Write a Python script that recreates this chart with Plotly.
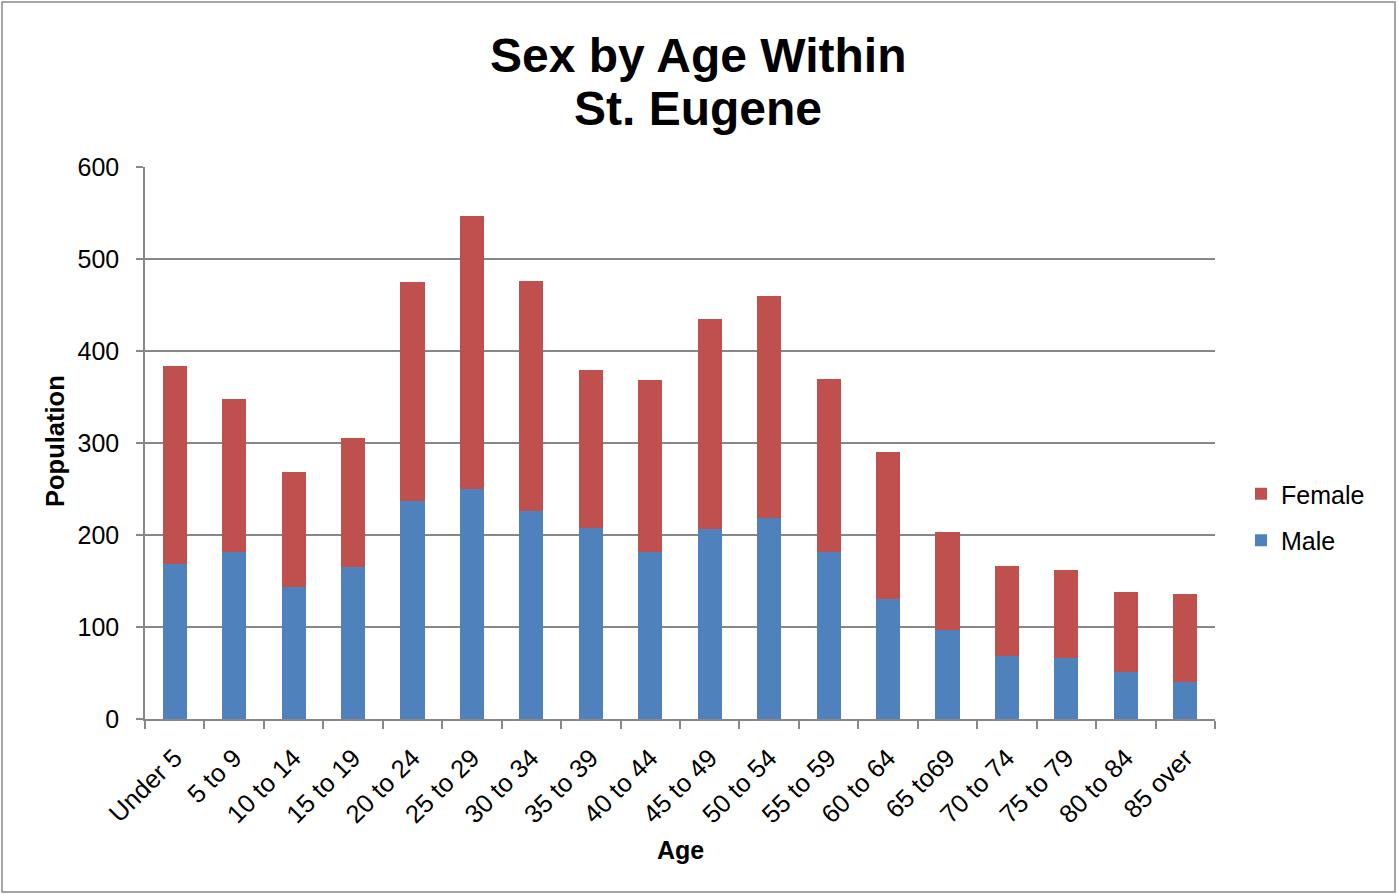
import plotly.graph_objects as go

categories = ["Under 5", "5 to 9", "10 to 14", "15 to 19", "20 to 24", "25 to 29",
              "30 to 34", "35 to 39", "40 to 44", "45 to 49", "50 to 54", "55 to 59",
              "60 to 64", "65 to69", "70 to 74", "75 to 79", "80 to 84", "85 over"]
male = [169, 181, 143, 165, 237, 250, 226, 208, 181, 206, 218, 182, 130, 97, 69, 66, 51, 40]
total = [384, 348, 268, 305, 475, 547, 476, 379, 368, 435, 460, 370, 290, 203, 166, 162, 138, 136]
female = [t - m for t, m in zip(total, male)]
y_ticks = [0, 100, 200, 300, 400, 500, 600]

FONT = "Liberation Sans, Arial, sans-serif"
W, H = 1398, 894
ml, mr, mt, mb = 145, 183, 167, 175
pw = W - ml - mr
ph = H - mt - mb


def px_x(x):
    return (x - ml) / pw


def px_y(y):
    return (H - mb - y) / ph


fig = go.Figure()
fig.add_trace(go.Bar(x=categories, y=male, name="Male", marker_color="#4F81BD",
                     marker_line_width=0, legendgroup="m", legendrank=2))
fig.add_trace(go.Bar(x=categories, y=female, name="Female", marker_color="#C0504D",
                     marker_line_width=0, legendgroup="f", legendrank=1))

fig.update_layout(
    width=W, height=H,
    barmode="stack", bargap=0.596,
    paper_bgcolor="white", plot_bgcolor="white",
    margin=dict(l=ml, r=mr, t=mt, b=mb, autoexpand=False),
    font=dict(family=FONT, size=25, color="black"),
    legend=dict(traceorder="grouped", x=px_x(1241), xanchor="left",
                y=px_y(517), yanchor="middle",
                font=dict(family=FONT, size=25), itemwidth=30, tracegroupgap=11),
    xaxis=dict(tickangle=-45, ticks="outside", tickson="boundaries", ticklen=8,
               tickcolor="#888888", tickwidth=1.5, showline=True, linecolor="#888888",
               linewidth=1.5, tickfont=dict(family=FONT, size=25.5), ticklabelstandoff=12),
    yaxis=dict(range=[0, 600], tickvals=y_ticks, ticks="outside", ticklen=7,
               tickcolor="#888888", tickwidth=1.5, showline=True, linecolor="#888888",
               linewidth=1.5, showgrid=True, gridcolor="#878787", gridwidth=1.5,
               zeroline=False, tickfont=dict(family=FONT, size=25), ticklabelstandoff=12),
    annotations=[
        dict(text="<b>Sex by Age Within</b>", xref="paper", yref="paper",
             x=px_x(698), y=px_y(55), xanchor="center", yanchor="middle", showarrow=False,
             font=dict(family=FONT, size=48, color="black")),
        dict(text="<b>St. Eugene</b>", xref="paper", yref="paper",
             x=px_x(698), y=px_y(108), xanchor="center", yanchor="middle", showarrow=False,
             font=dict(family=FONT, size=48, color="black")),
        dict(text="<b>Population</b>", xref="paper", yref="paper", textangle=-90,
             x=px_x(55), y=px_y(441), xanchor="center", yanchor="middle", showarrow=False,
             font=dict(family=FONT, size=25.5, color="black")),
        dict(text="<b>Age</b>", xref="paper", yref="paper",
             x=px_x(680), y=px_y(850), xanchor="center", yanchor="middle", showarrow=False,
             font=dict(family=FONT, size=25, color="black")),
    ],
    shapes=[dict(type="rect", xref="paper", yref="paper",
                 x0=px_x(2), x1=px_x(1395), y0=px_y(892), y1=px_y(2),
                 line=dict(color="#888888", width=1.5), fillcolor="rgba(0,0,0,0)",
                 layer="below")],
)

fig.write_html("out.html", config={"displayModeBar": False},
               post_script="document.body.style.margin='0';"
                           "document.body.style.overflow='hidden';")
